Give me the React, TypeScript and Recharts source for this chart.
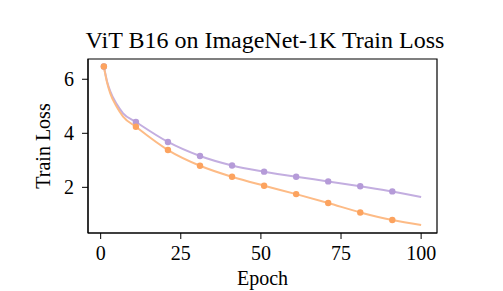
import { LineChart, Line, XAxis, YAxis, ReferenceArea } from "recharts";

const epochs = [1, 2, 3, 5, 7, 11, 21, 31, 41, 51, 61, 71, 81, 91, 100];
const markerEpochs = [1, 11, 21, 31, 41, 51, 61, 71, 81, 91];
const purpleLoss = [6.47, 5.92, 5.55, 5.08, 4.74, 4.42, 3.68, 3.16, 2.81, 2.58, 2.39, 2.22, 2.04, 1.85, 1.64];
const orangeLoss = [6.47, 5.88, 5.48, 4.98, 4.62, 4.24, 3.38, 2.8, 2.39, 2.06, 1.75, 1.42, 1.07, 0.79, 0.61];
const xTicks = [0, 25, 50, 75, 100];
const yTicks = [2, 4, 6];

const data = epochs.map((epoch, i) => ({ epoch, purple: purpleLoss[i], orange: orangeLoss[i] }));

const FONT = "'Liberation Serif', 'DejaVu Serif', serif";

const makeDot = (color: string) => (props: any) => {
  const { cx, cy, payload, index } = props;
  if (!markerEpochs.includes(payload.epoch)) return <g key={index} />;
  return <circle key={index} cx={cx} cy={cy} r={3.2} fill={color} stroke="none" />;
};

export default function App() {
  return (
    <div style={{ width: 503, height: 291, position: "relative", background: "#fff", fontFamily: FONT }}>
      <style>{`body{margin:0} svg text, svg tspan{font-family:${FONT} !important;}`}</style>
      <div style={{ position: "absolute", top: 28, left: 0, width: 530, textAlign: "center", fontSize: 24, lineHeight: "24px", color: "#000" }}>
        ViT B16 on ImageNet-1K Train Loss
      </div>
      <LineChart width={503} height={291} data={data} margin={{ top: 59, right: 66, bottom: 0, left: 0 }}>
        <XAxis
          dataKey="epoch"
          type="number"
          domain={[-3.95, 104.95]}
          ticks={xTicks}
          allowDataOverflow
          stroke="#000"
          tickSize={6}
          tick={{ fill: "#000", fontSize: 20, fontFamily: FONT }}
          tickMargin={7}
          label={{ value: "Epoch", position: "insideBottom", offset: 6, fill: "#000", fontSize: 20, fontFamily: FONT }}
          height={58}
        />
        <YAxis
          type="number"
          domain={[0.31, 6.75]}
          ticks={yTicks}
          allowDataOverflow
          stroke="#000"
          tickSize={6}
          width={88}
          tick={{ fill: "#000", fontSize: 20, fontFamily: FONT }}
          tickMargin={8}
          label={{ value: "Train Loss", angle: -90, position: "insideLeft", offset: 43, fill: "#000", fontSize: 20, fontFamily: FONT, style: { textAnchor: "middle" } }}
        />
        <ReferenceArea x1={-3.95} x2={104.95} y1={0.31} y2={6.75} fill="none" stroke="#000" strokeWidth={1.2} ifOverflow="visible" />
        <Line
          dataKey="purple"
          type="monotone"
          stroke="#c3aee0"
          strokeWidth={2}
          dot={makeDot("#b59bd8")}
          activeDot={false}
          isAnimationActive={false}
        />
        <Line
          dataKey="orange"
          type="monotone"
          stroke="#fdbb86"
          strokeWidth={2}
          dot={makeDot("#fca35f")}
          activeDot={false}
          isAnimationActive={false}
        />
      </LineChart>
    </div>
  );
}
